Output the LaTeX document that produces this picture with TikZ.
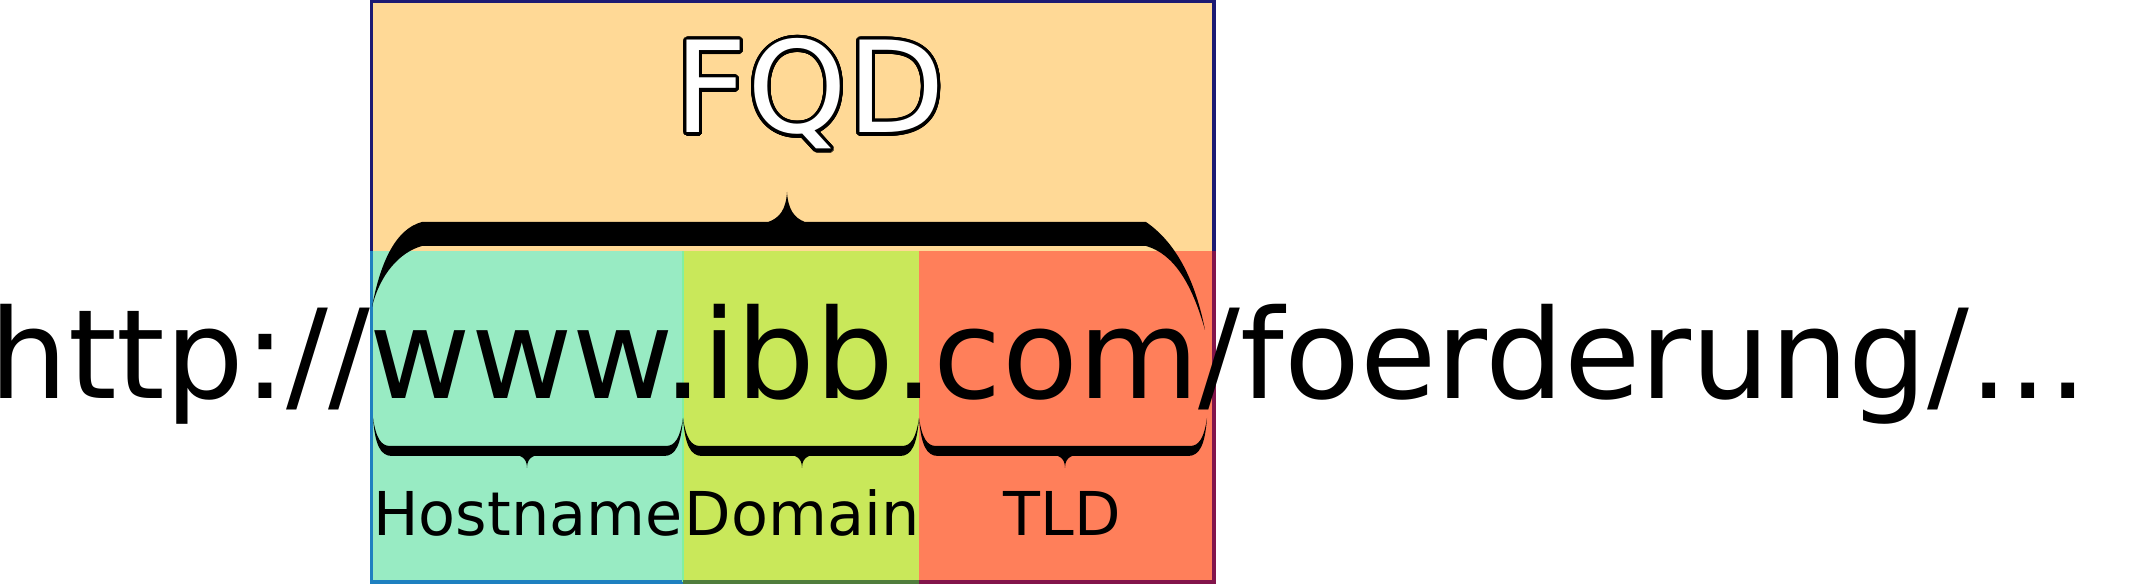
\documentclass[tikz,border=0pt]{standalone}
\usepackage{fontspec}
\setmainfont{DejaVu Sans}
\usepackage{contour}
\contourlength{0.9pt}
\contournumber{32}
\usepackage{tikz}

\definecolor{fqdfill}{RGB}{255,217,150}
\definecolor{hostfill}{RGB}{152,235,195}
\definecolor{domainfill}{RGB}{201,232,90}
\definecolor{tldfill}{RGB}{255,127,90}
\definecolor{fqdline}{RGB}{28,26,115}
\definecolor{hostline}{RGB}{30,128,192}
\definecolor{hostedge}{RGB}{130,240,160}
\definecolor{domainline}{RGB}{80,125,60}
\definecolor{tldline}{RGB}{130,20,75}

\begin{document}
\begin{tikzpicture}[
        urltext/.style={font=\fontsize{35.3pt}{40pt}\selectfont, inner sep=0pt},
        parttext/.style={font=\fontsize{17.2pt}{20pt}\selectfont, anchor=base, inner sep=0pt},
        edge/.style={line width=0.9pt}]
            \useasboundingbox (0,0) rectangle (21.31,5.84);
            % boxes
            \fill[fqdfill] (3.715,3.325) rectangle (12.14,5.825);
            \fill[hostfill] (3.715,0.02) rectangle (6.83,3.325);
            \fill[domainfill] (6.83,0.02) rectangle (9.19,3.325);
            \fill[tldfill] (9.19,0.02) rectangle (12.14,3.325);
            \draw[edge, fqdline] (3.715,3.325) -- (3.715,5.825) -- (12.14,5.825) -- (12.14,3.325);
            \draw[edge, hostline] (3.715,3.325) -- (3.715,0.02) -- (6.83,0.02);
            \draw[line width=0.5pt, hostedge] (6.83,0.02) -- (6.83,3.325);
            \draw[edge, domainline] (6.83,0.02) -- (9.19,0.02);
            \draw[edge, tldline] (9.19,0.02) -- (12.14,0.02) -- (12.14,3.325);
            % texts
            \node[urltext, anchor=base west] (url) at (-0.11,1.855) {http://www.ibb.com/foerderung/...};
            \node[urltext, font=\fontsize{36.1pt}{40pt}\selectfont, anchor=base] (fqd) at (8.10,4.51) {\contour{black}{\textcolor{white}{FQD}}};
            \node[parttext] (hostname) at (5.28,0.48) {Hostname};
            \node[parttext] (domain) at (8.02,0.48) {Domain};
            \node[parttext] (tld) at (10.62,0.48) {TLD};
            % brace over the whole name
            \fill (3.72,2.77) .. controls (3.80,3.20) and (3.95,3.55) .. (4.22,3.62)
                -- (7.68,3.62) .. controls (7.80,3.66) and (7.86,3.75) .. (7.87,3.92)
                .. controls (7.88,3.75) and (7.94,3.66) .. (8.05,3.62)
                -- (11.46,3.62) .. controls (11.78,3.40) and (11.96,3.00) .. (12.05,2.54)
                .. controls (11.92,3.00) and (11.74,3.30) .. (11.46,3.38)
                -- (4.22,3.38) .. controls (4.00,3.32) and (3.80,3.10) .. (3.72,2.77) -- cycle;
            % braces under the parts
            \foreach \a/\m/\b in {3.73/5.27/6.83, 6.83/8.02/9.19, 9.19/10.65/12.07}
                \fill (\a,1.66) .. controls ({\a+0.02},1.40) and ({\a+0.07},1.28) .. ({\a+0.19},1.28)
                    -- ({\m-0.07},1.28) .. controls ({\m-0.02},1.26) and (\m,1.22) .. (\m,1.16)
                    .. controls (\m,1.22) and ({\m+0.02},1.26) .. ({\m+0.07},1.28)
                    -- ({\b-0.19},1.28) .. controls ({\b-0.07},1.28) and ({\b-0.02},1.40) .. (\b,1.66)
                    .. controls ({\b-0.03},1.46) and ({\b-0.08},1.38) .. ({\b-0.17},1.38)
                    -- ({\a+0.17},1.38) .. controls ({\a+0.08},1.38) and ({\a+0.03},1.46) .. (\a,1.66) -- cycle;
        \end{tikzpicture}
\end{document}
